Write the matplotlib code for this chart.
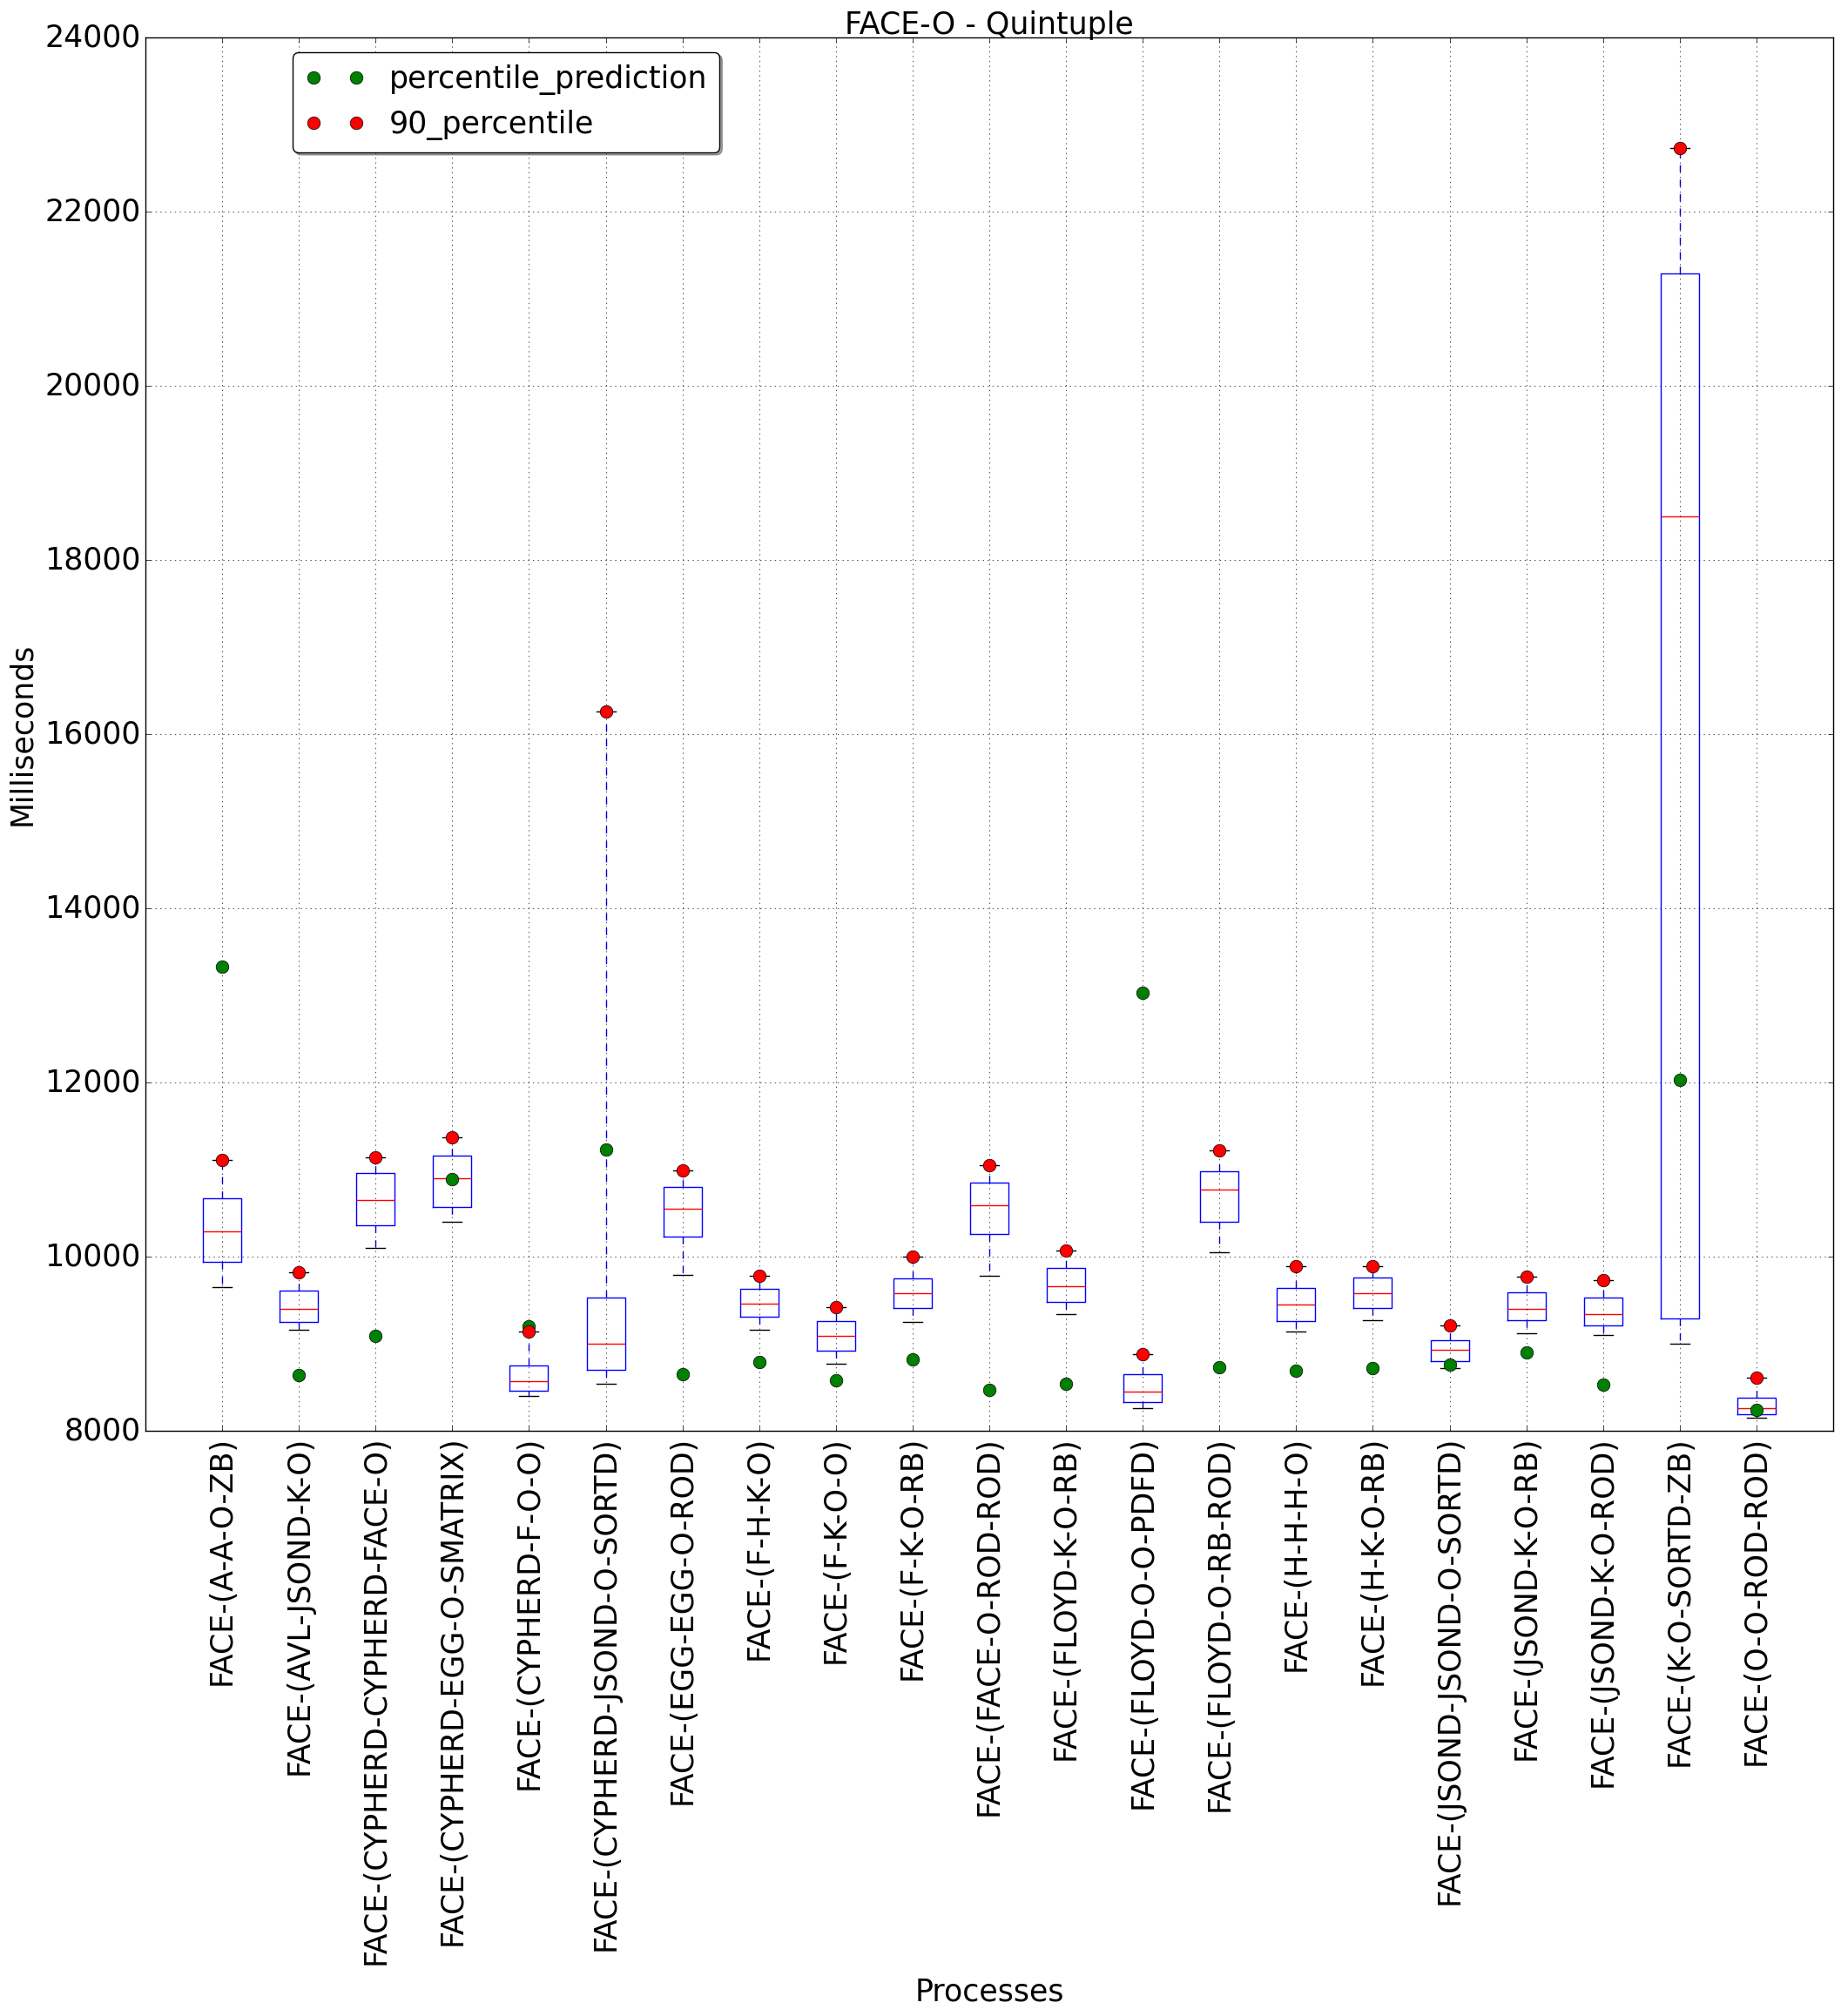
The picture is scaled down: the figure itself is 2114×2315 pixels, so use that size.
import matplotlib
matplotlib.use("Agg")
import matplotlib.pyplot as plt
import numpy as np

plt.style.use('classic')

labels = ["FACE-(A-A-O-ZB)", "FACE-(AVL-JSOND-K-O)", "FACE-(CYPHERD-CYPHERD-FACE-O)",
          "FACE-(CYPHERD-EGG-O-SMATRIX)", "FACE-(CYPHERD-F-O-O)", "FACE-(CYPHERD-JSOND-O-SORTD)",
          "FACE-(EGG-EGG-O-ROD)", "FACE-(F-H-K-O)", "FACE-(F-K-O-O)", "FACE-(F-K-O-RB)",
          "FACE-(FACE-O-ROD-ROD)", "FACE-(FLOYD-K-O-RB)", "FACE-(FLOYD-O-O-PDFD)",
          "FACE-(FLOYD-O-RB-ROD)", "FACE-(H-H-H-O)", "FACE-(H-K-O-RB)",
          "FACE-(JSOND-JSOND-O-SORTD)", "FACE-(JSOND-K-O-RB)", "FACE-(JSOND-K-O-ROD)",
          "FACE-(K-O-SORTD-ZB)", "FACE-(O-O-ROD-ROD)"]

q1 = [9940, 9250, 10360, 10570, 8460, 8700, 10230, 9310, 8920, 9410, 10260,
      9480, 8330, 10400, 9260, 9410, 8800, 9270, 9210, 9290, 8190]
med = [10290, 9400, 10650, 10900, 8570, 9000, 10550, 9460, 9090, 9580, 10590,
       9660, 8450, 10770, 9450, 9580, 8930, 9400, 9340, 18500, 8260]
q3 = [10670, 9610, 10960, 11160, 8750, 9530, 10800, 9630, 9260, 9750, 10850,
      9870, 8650, 10980, 9640, 9760, 9040, 9590, 9530, 21290, 8380]
whisker_low = [9650, 9160, 10100, 10400, 8400, 8540, 9790, 9160, 8770, 9250, 9780,
               9340, 8260, 10050, 9140, 9270, 8720, 9120, 9100, 9000, 8150]
p90 = [11110, 9820, 11140, 11370, 9140, 16260, 10990, 9780, 9420, 10000, 11050,
       10070, 8880, 11220, 9890, 9890, 9210, 9770, 9730, 22730, 8610]
prediction = [13330, 8640, 9090, 10890, 9200, 11230, 8650, 8790, 8580, 8820, 8470,
              8540, 13030, 8730, 8690, 8720, 8760, 8900, 8530, 12030, 8240]

FS = 25

fig = plt.figure(figsize=(21.14, 23.15), dpi=100, facecolor='white')
ax = fig.add_axes([167 / 2114, 1 - 1643.3 / 2315, (2105 - 167) / 2114, 1600 / 2315])

stats = []
for i in range(len(labels)):
    stats.append(dict(label=labels[i], q1=q1[i], med=med[i], q3=q3[i],
                      whislo=whisker_low[i], whishi=p90[i], fliers=[]))
positions = np.arange(1, len(labels) + 1)
ax.bxp(stats, positions=positions, widths=0.5, showfliers=False,
       boxprops=dict(color='b', linewidth=1),
       medianprops=dict(color='r', linewidth=1),
       whiskerprops=dict(color='b', linestyle='--', linewidth=1),
       capprops=dict(color='k', linewidth=1))

ax.plot(positions, prediction, linestyle='none', marker='o', color='g',
        markersize=10.5, markeredgecolor='k', markeredgewidth=0.5,
        label='percentile_prediction', zorder=5)
ax.plot(positions, p90, linestyle='none', marker='o', color='r',
        markersize=10.5, markeredgecolor='k', markeredgewidth=0.5,
        label='90_percentile', zorder=6)

ax.set_xlim(0, len(labels) + 1)
ax.set_ylim(8000, 24000)
ax.set_yticks(np.arange(8000, 24001, 2000))
ax.set_xticks(positions)
ax.set_xticklabels(labels, rotation=90, fontsize=FS)
ax.tick_params(axis='y', labelsize=FS)
ax.grid(True, color='k', linestyle=':', linewidth=0.5)

ax.set_title('FACE-O - Quintuple', fontsize=FS, pad=3)
ax.set_xlabel('Processes', fontsize=FS)
ax.set_ylabel('Milliseconds', fontsize=FS)
ax.xaxis.set_label_coords(0.5, -0.392)
ax.yaxis.set_label_coords(-0.0645, 0.5)

ax.legend(loc='upper left', bbox_to_anchor=(0.0872, 0.9896), borderaxespad=0,
          numpoints=2, fancybox=True, shadow=True, fontsize=FS)

fig.savefig('out.png', dpi=100, facecolor='white')
